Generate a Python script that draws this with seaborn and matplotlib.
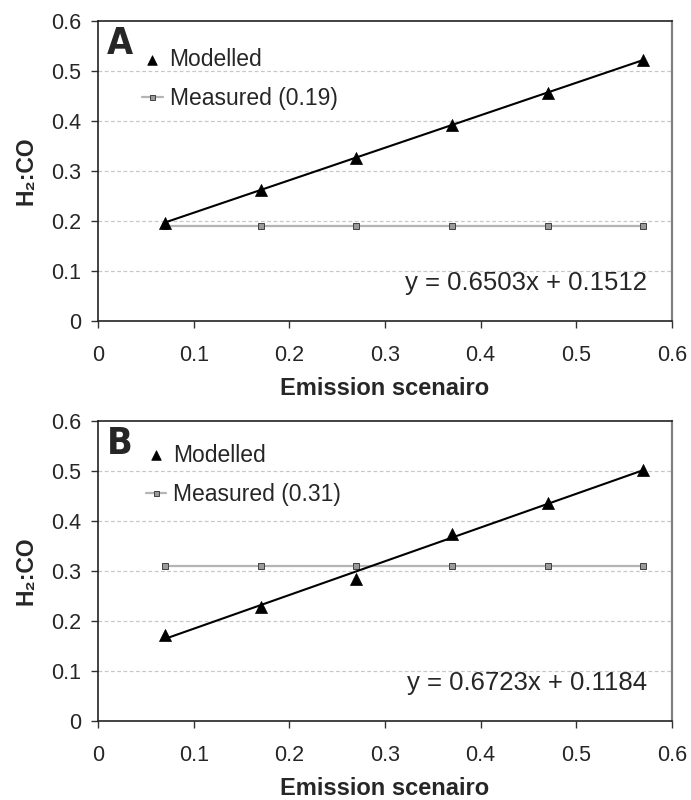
import matplotlib
matplotlib.use('Agg')
import matplotlib.pyplot as plt
import seaborn as sns
import pandas as pd
import numpy as np

# emission scenario values (x) and H2:CO ratios
scenario = [0.07, 0.17, 0.27, 0.37, 0.47, 0.57]
modelled_a = [0.197, 0.262, 0.327, 0.392, 0.457, 0.522]
measured_a = [0.19, 0.19, 0.19, 0.19, 0.19, 0.19]
modelled_b = [0.173, 0.228, 0.284, 0.374, 0.437, 0.502]
measured_b = [0.31, 0.31, 0.31, 0.31, 0.31, 0.31]
panel_names = ['A', 'B']
measured_labels = ['Measured (0.19)', 'Measured (0.31)']
equations = ['y = 0.6503x + 0.1512', 'y = 0.6723x + 0.1184']
ticks = [0, 0.1, 0.2, 0.3, 0.4, 0.5, 0.6]

sns.set_style('white')
plt.rcParams['font.family'] = ['Liberation Sans', 'DejaVu Sans']

fig = plt.figure(figsize=(6.91, 8), dpi=100)
ax_a = fig.add_axes([0.1418, 0.59875, 0.8307, 0.375])
ax_b = fig.add_axes([0.1418, 0.09875, 0.8307, 0.375])

panels = [
    (ax_a, modelled_a, measured_a, (0.0767, 0.91)),
    (ax_b, modelled_b, measured_b, (0.083, 0.925)),
]

for i, (ax, mod, meas, leg_pos) in enumerate(panels):
    df = pd.DataFrame({'scenario': scenario, 'modelled': mod, 'measured': meas})

    # grid behind everything
    for t in ticks[1:-1]:
        ax.axhline(t, color='#c8c8c8', lw=0.9, ls=(0, (3, 2)), zorder=0)

    sns.lineplot(data=df, x='scenario', y='measured', ax=ax, color='#b4b4b4', lw=1.6,
                 marker='s', markersize=4.5, markerfacecolor='#9a9a9a',
                 markeredgecolor='#404040', markeredgewidth=0.7,
                 label=measured_labels[i], zorder=2)
    sns.regplot(data=df, x='scenario', y='modelled', ax=ax, scatter=False, ci=None,
                truncate=True, color='black', line_kws={'lw': 1.5, 'zorder': 3})
    sns.scatterplot(data=df, x='scenario', y='modelled', ax=ax, marker='^', s=75,
                    color='black', edgecolor='black', linewidth=0.5,
                    label='Modelled', zorder=4)

    ax.set_xlim(0, 0.6)
    ax.set_ylim(0, 0.6)
    ax.set_xticks(ticks)
    ax.set_yticks(ticks)
    ax.set_xticklabels(['0', '0.1', '0.2', '0.3', '0.4', '0.5', '0.6'])
    ax.set_yticklabels(['0', '0.1', '0.2', '0.3', '0.4', '0.5', '0.6'])
    ax.tick_params(axis='both', direction='out', length=5, width=1, color='#333333',
                   labelsize=15.5, left=True, bottom=True)
    ax.tick_params(axis='x', pad=12)
    ax.tick_params(axis='y', pad=7)

    for side in ['left', 'bottom', 'top']:
        ax.spines[side].set_color('#222222')
        ax.spines[side].set_linewidth(1.2)
    ax.spines['right'].set_color('#808080')
    ax.spines['right'].set_linewidth(1.6)

    ax.set_xlabel('Emission scenairo', fontsize=17, fontweight='bold', labelpad=8)
    ax.set_ylabel('H\u2082:CO', fontsize=16.5, fontweight='bold', labelpad=10)

    handles, labels = ax.get_legend_handles_labels()
    order = [labels.index('Modelled'), labels.index(measured_labels[i])]
    ax.legend([handles[k] for k in order], [labels[k] for k in order],
              loc='upper left', bbox_to_anchor=leg_pos, frameon=False,
              borderaxespad=0, borderpad=0, handlelength=0.9, handletextpad=0.3,
              labelspacing=0.7, fontsize=16.5, markerscale=0.8)

    ax.text(0.023, 0.553, panel_names[i], fontsize=27, fontweight='heavy',
            fontfamily='DejaVu Sans', fontstretch='condensed',
            ha='center', va='center')
    ax.text(0.574, 0.0757, equations[i], fontsize=18.5, ha='right', va='center')

fig.savefig('out.png', dpi=100)
